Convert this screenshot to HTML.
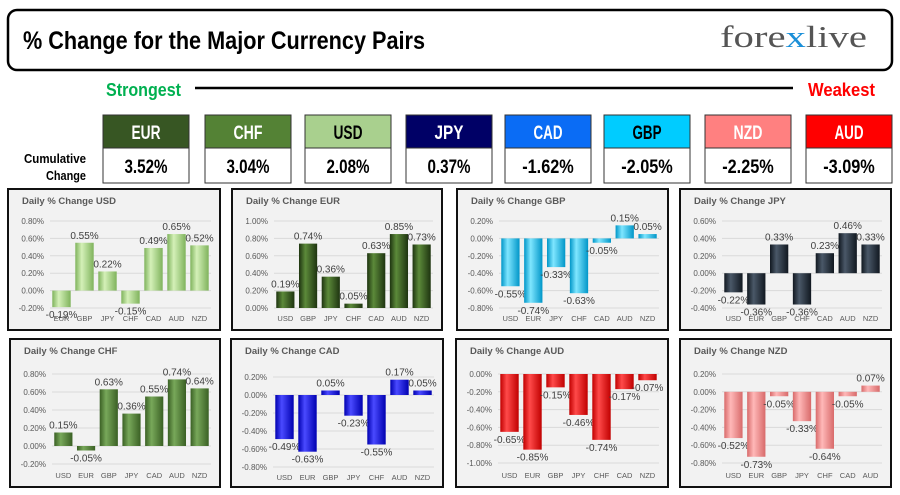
<!DOCTYPE html>
<html><head><meta charset="utf-8"><style>
html,body{margin:0;padding:0;background:#fff;width:900px;height:495px;overflow:hidden}
svg{display:block;font-family:"Liberation Sans",sans-serif}
.cond{font-family:"Liberation Sans Narrow","Liberation Sans",sans-serif;font-weight:bold}
</style></head><body>
<svg id="root" width="900" height="495" viewBox="0 0 900 495">
<defs id="defs"></defs>
<g>
<rect x="8" y="10" width="884" height="60" rx="9" fill="#fff" stroke="#000" stroke-width="2.5"/>
<text class="cond" x="23" y="49" font-size="25" textLength="402" lengthAdjust="spacingAndGlyphs">% Change for the Major Currency Pairs</text>
<text x="720" y="47" font-family="Liberation Serif,serif" font-size="31" fill="#555" textLength="147" lengthAdjust="spacingAndGlyphs">fore<tspan fill="#1a8fd8">x</tspan>live</text>
</g>
<text class="cond" x="106" y="96" font-size="18" fill="#00b050" textLength="75" lengthAdjust="spacingAndGlyphs">Strongest</text>
<line x1="195" y1="88" x2="793" y2="88" stroke="#000" stroke-width="2.5"/>
<text class="cond" x="808" y="96" font-size="18" fill="#ff0000" textLength="67" lengthAdjust="spacingAndGlyphs">Weakest</text>
<text class="cond" x="55" y="163" font-size="13" text-anchor="middle" textLength="62" lengthAdjust="spacingAndGlyphs">Cumulative</text>
<text class="cond" x="66" y="180" font-size="13" text-anchor="middle" textLength="40" lengthAdjust="spacingAndGlyphs">Change</text>
<g id="summary"></g>
<g id="charts"></g>
</svg>
<script>
const NS="http://www.w3.org/2000/svg";
function mk(tag,attrs,parent){const e=document.createElementNS(NS,tag);for(const k in attrs)e.setAttribute(k,attrs[k]);if(parent)parent.appendChild(e);return e;}

// Summary data
const sumCurrencies=["EUR","CHF","USD","JPY","CAD","GBP","NZD","AUD"];
const sumValues=[3.52,3.04,2.08,0.37,-1.62,-2.05,-2.25,-3.09];
const sumFill=["#375623","#548235","#a9d08e","#000066","#0a6cf5","#00ccff","#ff8080","#ff0000"];
const sumText=["#fff","#fff","#000","#fff","#fff","#000","#fff","#fff"];

// Chart data
const usdCats=["EUR","GBP","JPY","CHF","CAD","AUD","NZD"];
const usdVals=[-0.19,0.55,0.22,-0.15,0.49,0.65,0.52];
const usdTicks=[0.8,0.6,0.4,0.2,0.0,-0.2];
const eurCats=["USD","GBP","JPY","CHF","CAD","AUD","NZD"];
const eurVals=[0.19,0.74,0.36,0.05,0.63,0.85,0.73];
const eurTicks=[1.0,0.8,0.6,0.4,0.2,0.0];
const gbpCats=["USD","EUR","JPY","CHF","CAD","AUD","NZD"];
const gbpVals=[-0.55,-0.74,-0.33,-0.63,-0.05,0.15,0.05];
const gbpTicks=[0.2,0.0,-0.2,-0.4,-0.6,-0.8];
const jpyCats=["USD","EUR","GBP","CHF","CAD","AUD","NZD"];
const jpyVals=[-0.22,-0.36,0.33,-0.36,0.23,0.46,0.33];
const jpyTicks=[0.6,0.4,0.2,0.0,-0.2,-0.4];
const chfCats=["USD","EUR","GBP","JPY","CAD","AUD","NZD"];
const chfVals=[0.15,-0.05,0.63,0.36,0.55,0.74,0.64];
const chfTicks=[0.8,0.6,0.4,0.2,0.0,-0.2];
const cadCats=["USD","EUR","GBP","JPY","CHF","AUD","NZD"];
const cadVals=[-0.49,-0.63,0.05,-0.23,-0.55,0.17,0.05];
const cadTicks=[0.2,0.0,-0.2,-0.4,-0.6,-0.8];
const audCats=["USD","EUR","GBP","JPY","CHF","CAD","NZD"];
const audVals=[-0.65,-0.85,-0.15,-0.46,-0.74,-0.17,-0.07];
const audTicks=[0.0,-0.2,-0.4,-0.6,-0.8,-1.0];
const nzdCats=["USD","EUR","GBP","JPY","CHF","CAD","AUD"];
const nzdVals=[-0.52,-0.73,-0.05,-0.33,-0.64,-0.05,0.07];
const nzdTicks=[0.2,0.0,-0.2,-0.4,-0.6,-0.8];

const root=document.getElementById('root');
const defs=document.getElementById('defs');
const summary=document.getElementById('summary');
const sumX=[103,205,305,406,505,604,705,806];
sumCurrencies.forEach((c,i)=>{
  const g=mk('g',{},summary);
  
  
  mk('rect',{x:sumX[i],y:115,width:86,height:33,fill:sumFill[i],stroke:'#333','stroke-width':1},g);
  mk('rect',{x:sumX[i],y:148,width:86,height:35,fill:'#fff',stroke:'#333','stroke-width':1},g);
  const t=mk('text',{x:sumX[i]+43,y:139,'text-anchor':'middle','font-size':19,fill:sumText[i],'class':'cond',textLength:29,lengthAdjust:'spacingAndGlyphs'},g);
  t.textContent=c;
  const s=sumValues[i].toFixed(2)+'%';
  const v=mk('text',{x:sumX[i]+43,y:173,'text-anchor':'middle','font-size':19,fill:'#000','class':'cond',textLength:s.length*8.6,lengthAdjust:'spacingAndGlyphs'},g);
  v.textContent=s;
});

const panels=[
 {name:'usd',title:'USD',cats:usdCats,vals:usdVals,ticks:usdTicks,x:8,y:189,w:212,h:141,top:32,bot:119,lab:129,c1:'#d4f0b8',c2:'#7fb35c'},
 {name:'eur',title:'EUR',cats:eurCats,vals:eurVals,ticks:eurTicks,x:232,y:189,w:210,h:141,top:32,bot:119,lab:129,c1:'#5c8a3a',c2:'#1e3410'},
 {name:'gbp',title:'GBP',cats:gbpCats,vals:gbpVals,ticks:gbpTicks,x:457,y:189,w:211,h:141,top:32,bot:119,lab:129,c1:'#7fe6ff',c2:'#0096c8'},
 {name:'jpy',title:'JPY',cats:jpyCats,vals:jpyVals,ticks:jpyTicks,x:680,y:189,w:211,h:141,top:32,bot:119,lab:129,c1:'#4a5868',c2:'#111820'},
 {name:'chf',title:'CHF',cats:chfCats,vals:chfVals,ticks:chfTicks,x:10,y:339,w:210,h:148,top:35,bot:125,lab:136,c1:'#78a85a',c2:'#3a6024'},
 {name:'cad',title:'CAD',cats:cadCats,vals:cadVals,ticks:cadTicks,x:231,y:339,w:212,h:148,top:38,bot:128,lab:138,c1:'#4a4aff',c2:'#0000b0'},
 {name:'aud',title:'AUD',cats:audCats,vals:audVals,ticks:audTicks,x:456,y:339,w:212,h:148,top:35,bot:124,lab:136,c1:'#ff4a4a',c2:'#c00000'},
 {name:'nzd',title:'NZD',cats:nzdCats,vals:nzdVals,ticks:nzdTicks,x:680,y:339,w:211,h:148,top:35,bot:124,lab:136,c1:'#ffb8b8',c2:'#d86a6a'}
];
const charts=document.getElementById('charts');
panels.forEach(p=>{
  const gr=mk('linearGradient',{id:'g'+p.name,x1:0,x2:1,y1:0,y2:0},defs);
  mk('stop',{offset:'0',"stop-color":p.c2},gr);
  mk('stop',{offset:'0.35',"stop-color":p.c1},gr);
  mk('stop',{offset:'1',"stop-color":p.c2},gr);
  const g=mk('g',{},charts);
  
  
  const bg=mk('rect',{x:p.x,y:p.y,width:p.w,height:p.h,fill:'#f2f2f2',stroke:'#111','stroke-width':2},g);
  
  
  const tt=mk('text',{x:p.x+14,y:p.y+15,'font-size':9.5,'font-weight':'bold',fill:'#595959'},g);
  
  
  tt.textContent='Daily % Change '+p.title;
  const ymax=Math.max(...p.ticks), ymin=Math.min(...p.ticks);
  const y0=p.y+p.top, y1=p.y+p.bot;
  const yScale=v=>y0+(ymax-v)/(ymax-ymin)*(y1-y0);
  const px0=p.x+42, px1=p.x+p.w-9;
  const cw=(px1-px0)/p.cats.length;
  const xScale=i=>px0+cw*(i+0.5);
  p.ticks.forEach(t=>{
    const ln=mk('line',{x1:px0,x2:px1,y1:yScale(t),y2:yScale(t),stroke:'#d9d9d9','stroke-width':1},g);
    
    
    const tl=mk('text',{x:p.x+36,y:yScale(t)+3,'text-anchor':'end','font-size':8,fill:'#595959'},g);
    
    
    tl.textContent=t.toFixed(2)+'%';
  });
  p.cats.forEach((c,i)=>{
    const v=p.vals[i];
    const bw=cw*0.8;
    const ya=yScale(v), yz=yScale(0);
    const b=mk('rect',{x:xScale(i)-bw/2,y:Math.min(ya,yz),width:bw,height:Math.max(1.5,Math.abs(ya-yz)),fill:'url(#g'+p.name+')'},g);
    
    
    const cl=mk('text',{x:xScale(i),y:p.y+p.lab+3,'text-anchor':'middle','font-size':7.5,fill:'#595959'},g);
    
    
    cl.textContent=c;
    const vl=mk('text',{x:xScale(i),y:v>=0?ya-4:ya+11,'text-anchor':'middle','font-size':10,fill:'#404040'},g);
    
    
    vl.textContent=v.toFixed(2)+'%';
  });
});
</script>
</body></html>
